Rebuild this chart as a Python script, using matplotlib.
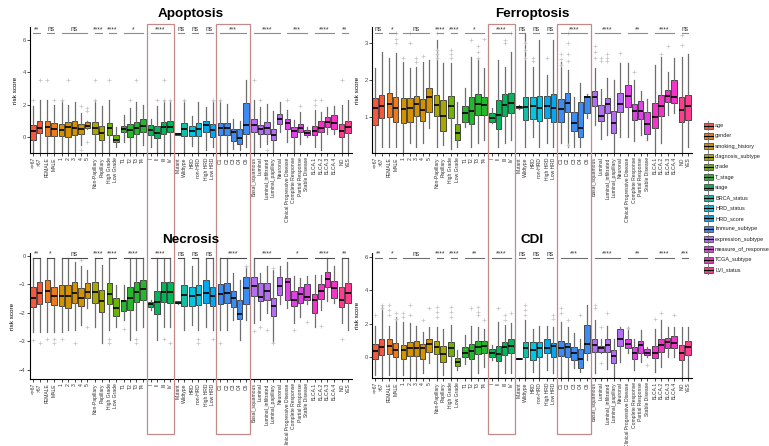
import numpy as np
import matplotlib
matplotlib.use("Agg")
import matplotlib.pyplot as plt
from matplotlib.patches import Rectangle
from matplotlib.lines import Line2D

plt.rcParams['font.family'] = ['Liberation Sans', 'DejaVu Sans']

GROUPS = ["age", "gender", "smoking_history", "diagnosis_subtype", "grade", "T_stage", "stage",
          "BRCA_status", "HRD_status", "HRD_score", "Immune_subtype", "expression_subtype",
          "measure_of_response", "TCGA_subtype", "LVI_status"]
LEVELS = [["<=67", ">67"], ["FEMALE", "MALE"], ["1", "2", "3", "4", "5"],
          ["Non-Papillary", "Papillary"], ["High Grade", "Low Grade"], ["T1", "T2", "T3", "T4"],
          ["I", "II", "III", "IV"], ["Mutant", "Wildtype"], ["HRD", "non-HRD"], ["High HRD", "Low HRD"],
          ["C1", "C2", "C3", "C4", "C6"],
          ["Basal_squamous", "Luminal", "Luminal_infiltrated", "Luminal_papillary", "Neuronal"],
          ["Clinical Progressive Disease", "Complete Response", "Partial Response", "Stable Disease"],
          ["BLCA.1", "BLCA.2", "BLCA.3", "BLCA.4"], ["NO", "YES"]]
COLORS = ["#F4593E", "#EE7A1E", "#D49200", "#A9A800", "#6DB300", "#25B82A", "#00B75A",
          "#14BFA6", "#00C5E3", "#00A9F2", "#3D8CF4", "#B46EF4", "#E042E6", "#F434C8", "#FF3C8E"]

# ---- Apoptosis ----
APOP_Q1 = [-0.2, 0.25, 0.06, 0.06, 0.04, 0.0, 0.14, 0.16, 0.55, 0.2, -0.16, 0.14, -0.31, 0.31, 0.0, 0.2, 0.31,
           0.1, -0.04, 0.2, 0.31, 0.14, 0.06, 0.06, 0.06, 0.31, 0.0, 0.14, 0.14, -0.27, -0.41, 0.2,
           0.31, 0.16, 0.2, -0.2, 0.82, 0.51, 0.0, 0.31, 0.1, 0.1, 0.31, 0.62, 0.51, 0.0, 0.27]
APOP_MED = [0.37, 0.57, 0.62, 0.47, 0.41, 0.62, 0.55, 0.47, 0.66, 0.57, 0.27, 0.57, -0.2, 0.51, 0.45, 0.57, 0.66,
            0.41, 0.27, 0.62, 0.62, 0.2, 0.51, 0.35, 0.51, 0.72, 0.41, 0.55, 0.55, 0.31, -0.04, 0.72,
            0.72, 0.47, 0.57, 0.14, 1.13, 0.88, 0.35, 0.57, 0.27, 0.35, 0.55, 0.92, 0.88, 0.37, 0.62]
APOP_Q3 = [0.72, 0.96, 0.96, 0.86, 0.82, 0.92, 0.98, 0.78, 0.92, 0.92, 0.68, 0.88, 0.1, 0.66, 0.82, 0.92, 1.13,
           0.76, 0.66, 0.92, 0.98, 0.25, 0.88, 0.66, 0.88, 0.98, 0.82, 0.88, 0.88, 0.51, 0.51, 2.1,
           1.09, 0.76, 0.92, 0.51, 1.4, 1.13, 0.62, 0.82, 0.41, 0.66, 0.98, 1.23, 1.33, 0.82, 0.98]
APOP_LO = [-0.92, -0.9, -0.9, -0.9, -0.9, -0.95, -0.9, -0.5, 0.5, -0.9, -0.9, -0.9, -0.6, -0.3, -0.9, -0.9, -0.5,
           -0.6, -0.9, -0.9, -0.9, 0.14, -0.9, -0.57, -0.9, -0.8, -0.6, -0.9, -0.9, -0.72, -0.8, -0.6,
           -0.9, -0.6, -0.4, -0.9, 0.31, -0.3, -0.92, -0.41, 0.0, -0.6, -0.8, 0.2, 0.2, -0.9, -0.9]
APOP_HI = [1.9, 2.3, 2.25, 2.0, 2.25, 2.0, 2.15, 1.45, 1.0, 2.25, 1.9, 2.25, 0.6, 1.33, 1.8, 2.15, 1.95,
           1.13, 1.9, 2.25, 2.25, 0.25, 2.25, 1.27, 2.15, 1.85, 2.25, 2.25, 2.05, 1.1, 1.0, 3.5,
           2.25, 1.85, 2.05, 1.58, 2.15, 1.64, 1.03, 1.54, 0.6, 1.64, 1.54, 1.85, 1.9, 1.95, 2.25]
APOP_OUT = [(0, 2.25), (1, 3.5), (2, 3.5), (3, 2.25), (4, 2.25), (5, 3.5), (7, 1.9), (7, -0.8), (8, 1.8),
            (8, 1.6), (8, -0.3), (9, 3.5), (9, 2.25), (11, 3.5), (14, 2.25), (15, 3.5), (18, 2.25),
            (19, 3.5), (19, 2.25), (20, 2.25), (22, 2.25), (26, 2.25), (27, 2.25), (32, 3.5), (33, 2.25),
            (34, -0.8), (37, 2.25), (39, 1.9), (41, 2.25), (41, 2.0), (42, 2.25), (45, 3.5)]
APOP_SIG = ["**", "ns", "ns", "****", "****", "*", "****", "ns", "ns", "ns", "***", "****", "***", "****", "**"]

# ---- Ferroptosis ----
FERR_Q1 = [0.79, 0.97, 1.0, 0.88, 0.84, 0.88, 1.02, 0.91, 1.15, 1.04, 0.63, 0.97, 0.39, 0.86, 0.82, 1.06, 1.06,
           0.86, 0.68, 1.02, 1.11, 1.24, 0.93, 0.95, 0.91, 0.97, 0.87, 0.87, 1.15, 0.62, 0.46, 1.11,
           1.29, 0.91, 1.11, 0.57, 1.13, 1.27, 0.93, 0.95, 0.54, 0.71, 1.02, 1.42, 1.38, 0.88, 0.93]
FERR_MED = [1.24, 1.29, 1.35, 1.24, 1.22, 1.24, 1.35, 1.2, 1.54, 1.33, 1.02, 1.29, 0.57, 1.11, 1.17, 1.35, 1.33,
            0.99, 1.06, 1.33, 1.38, 1.27, 1.27, 1.29, 1.26, 1.3, 1.26, 1.21, 1.38, 0.84, 0.72, 1.55,
            1.55, 1.04, 1.35, 0.84, 1.36, 1.57, 1.18, 1.17, 0.82, 1.0, 1.3, 1.57, 1.55, 1.2, 1.3]
FERR_Q3 = [1.51, 1.6, 1.64, 1.54, 1.51, 1.51, 1.58, 1.48, 1.78, 1.6, 1.46, 1.58, 0.81, 1.29, 1.54, 1.62, 1.55,
           1.11, 1.46, 1.62, 1.64, 1.3, 1.55, 1.53, 1.57, 1.58, 1.62, 1.49, 1.64, 1.15, 1.42, 1.58,
           1.71, 1.33, 1.51, 1.17, 1.66, 1.87, 1.35, 1.44, 1.15, 1.38, 1.6, 1.73, 2.0, 1.55, 1.6]
FERR_LO = [0.04, 0.21, 0.21, 0.2, 0.04, 0.3, 0.2, 0.3, 0.71, 0.2, 0.26, 0.15, 0.21, 0.75, 0.2, 0.3, 0.39,
           0.84, 0.2, 0.3, 0.39, 1.22, 0.2, 0.48, 0.2, 0.3, 0.2, 0.3, 0.2, 0.2, 0.21, 0.97,
           0.79, 0.41, 0.53, 0.04, 0.48, 0.48, 0.35, 0.53, 0.39, 0.04, 0.3, 1.06, 1.11, 0.04, 0.2]
FERR_HI = [2.31, 2.76, 2.6, 2.71, 2.49, 2.31, 2.36, 2.49, 2.54, 3.07, 2.45, 2.45, 1.42, 1.78, 2.62, 2.58, 2.31,
           1.24, 2.54, 2.36, 2.76, 1.32, 3.25, 2.36, 3.07, 2.13, 3.07, 2.49, 2.27, 1.55, 1.91, 1.62,
           2.31, 1.75, 2.04, 2.0, 2.45, 2.45, 2.0, 1.71, 1.5, 2.4, 2.62, 2.22, 2.58, 2.62, 2.7]
FERR_OUT = [(3, 3.0), (3, 3.1), (3, 3.25), (4, 2.6), (5, 3.0), (5, 3.25), (6, 2.6), (6, 2.49), (7, 2.65),
            (9, 2.6), (9, 2.7), (9, 2.8), (9, 3.25), (11, 2.6), (11, 2.7), (11, 2.8), (14, 3.07), (15, 2.6),
            (15, 2.75), (15, 2.9), (16, 3.1), (19, 3.07), (19, 3.0), (20, 3.25), (22, 2.6), (22, 2.8),
            (22, 3.0), (23, 2.6), (23, 2.5), (25, 2.6), (27, 2.4), (27, 2.55), (27, 2.7), (28, 2.5),
            (28, 2.7), (28, 3.0), (28, 3.25), (28, 0.25), (32, 2.6), (32, 2.75), (32, 2.9), (33, 2.5),
            (33, 2.6), (34, 2.6), (34, 2.7), (34, 2.5), (36, 2.71), (38, 2.2), (42, 2.7), (43, 2.9),
            (45, 2.95), (45, 3.2)]
FERR_SIG = ["ns", "*", "ns", "****", "****", "*", "****", "ns", "ns", "ns", "****", "****", "**", "****", "ns"]

# ---- Necrosis ----
NECR_Q1 = [-1.81, -1.69, -1.61, -1.73, -1.75, -1.82, -1.67, -1.76, -1.47, -1.64, -1.98, -1.69, -2.11, -1.92, -1.9,
           -1.61, -1.55, -1.81, -2.04, -1.61, -1.64, -1.67, -1.76, -1.75, -1.73, -1.64, -1.76, -1.69, -1.67,
           -1.78, -2.22, -1.69, -1.41, -1.57, -1.55, -2.11, -1.38, -1.55, -1.76, -1.67, -1.55, -2.02, -1.52,
           -1.08, -1.49, -1.81, -1.64]
NECR_MED = [-1.47, -1.29, -1.24, -1.4, -1.4, -1.4, -1.29, -1.49, -1.28, -1.28, -1.59, -1.35, -1.84, -1.59, -1.49,
            -1.28, -1.17, -1.7, -1.61, -1.26, -1.26, -1.64, -1.38, -1.41, -1.38, -1.32, -1.41, -1.34, -1.32,
            -1.49, -2.05, -1.12, -1.05, -1.43, -1.24, -1.76, -1.05, -0.93, -1.55, -1.34, -1.43, -1.55, -1.22,
            -0.83, -1.14, -1.55, -1.29]
NECR_Q3 = [-1.08, -0.91, -0.85, -1.08, -1.03, -1.03, -0.91, -1.14, -0.97, -0.91, -1.2, -0.97, -1.49, -1.55, -1.08,
           -0.93, -0.85, -1.61, -1.24, -0.91, -0.91, -1.6, -1.03, -1.11, -1.03, -0.85, -1.08, -1.0, -0.97,
           -1.24, -1.55, -0.76, -0.76, -0.97, -0.97, -1.47, -0.76, -0.79, -1.22, -1.08, -1.0, -1.34, -1.0,
           -0.58, -0.89, -1.11, -0.97]
NECR_LO = [-2.66, -2.66, -2.66, -2.66, -2.66, -2.6, -2.6, -2.43, -1.84, -2.48, -3.07, -2.6, -2.48, -2.25, -2.95,
           -2.6, -2.48, -1.9, -2.95, -2.48, -2.48, -1.7, -2.6, -2.43, -2.6, -2.48, -2.6, -2.6, -2.6, -2.25,
           -2.95, -2.25, -2.37, -2.25, -2.02, -3.04, -1.68, -1.84, -2.37, -2.13, -1.68, -2.48, -1.9, -1.6,
           -1.64, -2.37, -2.6]
NECR_HI = [-0.09, -0.09, -0.09, -0.09, -0.09, -0.09, -0.21, -0.38, -0.5, -0.09, -0.33, -0.09, -1.03, -1.03, -0.09,
           -0.09, -0.09, -1.55, -0.09, -0.09, -0.09, -1.6, -0.09, -0.38, -0.09, -0.09, -0.09, -0.09, -0.09,
           -0.62, -0.85, -0.38, -0.09, -0.62, -0.38, -0.5, -0.38, -0.21, -0.73, -0.79, -0.73, -0.68, -0.68,
           -0.09, -0.38, -0.09, -0.09]
NECR_OUT = [(0, -2.95), (1, -3.05), (2, -2.93), (3, -2.93), (3, -3.05), (4, -2.93), (6, -3.05), (7, -0.15),
            (8, -2.48), (11, -2.93), (11, -3.05), (13, -2.57), (15, -2.93), (15, -3.05), (19, -2.93),
            (20, -3.05), (24, -2.93), (24, -3.05), (26, -2.93), (27, -3.05), (31, -0.38), (32, -2.64),
            (33, -2.48), (34, -2.6), (35, -3.05), (35, -0.45), (38, -2.6), (40, -2.33), (42, -2.45),
            (45, -2.93)]
NECR_SIG = ["**", "*", "ns", "****", "****", "****", "****", "ns", "ns", "ns", "****", "****", "*", "****", "**"]

# ---- CDI ----
CDI_Q1 = [-0.14, 0.12, 0.16, -0.02, -0.14, 0.08, 0.06, -0.14, 0.32, 0.16, -0.32, 0.06, -0.54, 0.02, -0.14, 0.16,
          0.22, 0.02, -0.24, 0.12, 0.22, -0.14, 0.02, -0.18, 0.02, 0.22, 0.02, 0.08, 0.02, -0.18, -0.64, 0.22,
          0.28, 0.28, 0.28, -0.38, 0.68, 0.56, -0.14, 0.22, 0.12, -0.04, 0.28, 0.56, 0.56, -0.18, 0.12]
CDI_MED = [0.38, 0.58, 0.66, 0.42, 0.42, 0.52, 0.52, 0.52, 0.78, 0.58, 0.16, 0.52, -0.28, 0.26, 0.36, 0.62,
           0.66, 0.26, 0.16, 0.62, 0.66, -0.1, 0.52, 0.42, 0.56, 0.56, 0.66, 0.56, 0.62, 0.26, -0.14, 0.76,
           0.72, 0.52, 0.72, 0.06, 1.06, 0.78, 0.22, 0.72, 0.22, 0.26, 0.72, 0.92, 0.86, 0.22, 0.62]
CDI_Q3 = [0.76, 1.06, 1.08, 0.82, 0.72, 0.92, 0.98, 0.76, 1.06, 0.96, 0.66, 0.92, -0.04, 0.62, 0.78, 0.98,
          0.96, 0.46, 0.66, 0.92, 1.06, -0.06, 0.88, 0.88, 0.88, 1.08, 0.86, 0.96, 0.86, 0.58, 0.48, 1.91,
          1.08, 0.68, 1.08, 0.42, 1.66, 1.06, 0.62, 0.96, 0.46, 0.66, 1.08, 1.12, 1.28, 0.72, 0.98]
CDI_LO = [-1.08, -1.18, -1.08, -1.18, -1.08, -1.18, -1.18, -0.98, -0.38, -1.18, -1.08, -1.18, -0.78, -0.42,
          -1.18, -0.98, -0.58, -0.18, -1.18, -0.98, -0.98, -0.14, -1.18, -0.88, -1.18, -0.78, -0.98, -1.18,
          -1.18, -0.68, -0.88, -0.18, -0.98, 0.22, -0.74, -1.28, -0.28, 0.22, -0.78, -0.28, 0.02, -0.88,
          -0.58, 0.02, 0.02, -1.28, -1.18]
CDI_HI = [1.85, 3.1, 1.85, 2.4, 2.1, 2.05, 1.85, 1.5, 1.8, 1.8, 1.7, 1.9, 0.42, 1.3, 1.85, 1.8, 1.7, 0.72,
          2.1, 1.9, 2.05, -0.06, 2.2, 1.66, 1.85, 1.85, 1.8, 2.1, 1.8, 1.42, 1.1, 3.1, 2.2, 1.1, 1.85, 1.1,
          1.8, 1.8, 1.1, 1.6, 0.62, 1.7, 2.2, 1.8, 1.8, 1.8, 1.8]
CDI_OUT = [(0, 2.5), (1, 2.9), (1, 3.1), (2, 2.5), (2, 2.8), (2, 3.1), (3, 2.3), (3, 2.6), (4, 2.6), (4, 2.4),
           (5, 3.1), (5, 2.5), (7, 2.2), (8, 2.9), (9, 2.4), (9, 2.7), (9, 3.0), (11, 2.4), (11, 2.7),
           (11, 3.0), (14, 2.9), (15, 2.5), (15, 2.7), (15, 3.0), (16, 2.2), (18, 2.9), (19, 2.5), (19, 2.2),
           (20, 2.6), (22, 2.5), (22, 2.8), (22, 3.1), (26, 2.5), (26, 2.3), (27, 2.9), (27, 2.6), (28, 2.2),
           (30, 2.5), (32, 2.9), (32, 3.1), (33, 1.8), (33, -0.38), (34, 2.6), (37, 1.76), (40, -0.48),
           (41, 2.3), (42, 2.6), (44, 2.5)]
CDI_SIG = ["**", "*", "ns", "****", "****", "**", "****", "ns", "ns", "ns", "***", "****", "**", "****", "***"]

W, H = 769, 446
fig = plt.figure(figsize=(W / 100, H / 100), dpi=100)


def px_axes(left, top, right, bottom):
    return fig.add_axes([left / W, 1 - bottom / H, (right - left) / W, (bottom - top) / H])


# x positions: step 1 inside a group, 1.2 between groups
xs, box_cols, labels, spans = [], [], [], []
pos = 0.0
for gi, lv in enumerate(LEVELS):
    if gi > 0:
        pos += 1.2
    start = pos
    for j, name in enumerate(lv):
        if j > 0:
            pos += 1.0
        xs.append(pos)
        box_cols.append(COLORS[gi])
        labels.append(name)
    spans.append((start, pos))
xs = np.array(xs)


def draw_panel(ax, q1, med, q3, lo, hi, outs, sig, ylim, yticks, bracket_y, title, bcol):
    stats = []
    for i in range(len(xs)):
        stats.append(dict(med=med[i], q1=q1[i], q3=q3[i], whislo=lo[i], whishi=hi[i],
                          fliers=[v for k, v in outs if k == i]))
    bp = ax.bxp(stats, positions=xs, widths=0.85, patch_artist=True, showcaps=False,
                boxprops=dict(edgecolor="#333333", linewidth=0.6),
                medianprops=dict(color="black", linewidth=1.2),
                whiskerprops=dict(color="#6e6e6e", linewidth=0.9),
                flierprops=dict(marker="+", markeredgecolor="#c4c4c4", markersize=2.6, markeredgewidth=0.5))
    for patch, c in zip(bp["boxes"], box_cols):
        patch.set_facecolor(c)
    ax.set_xlim(-0.5, xs[-1] + 0.6)
    ax.set_ylim(*ylim)
    ax.set_yticks(yticks)
    ax.set_xticks(xs)
    ax.set_xticklabels(labels, rotation=90, fontsize=3.6, color="#303030")
    ax.tick_params(axis="y", labelsize=4.2, labelcolor="#4d4d4d", length=2, width=0.5, pad=1)
    ax.tick_params(axis="x", length=2, width=0.5, pad=1)
    for s in ["top", "right"]:
        ax.spines[s].set_visible(False)
    for s in ["left", "bottom"]:
        ax.spines[s].set_linewidth(0.8)
    ax.set_ylabel("risk score", fontsize=4.6, labelpad=3)
    for (a, b), s in zip(spans, sig):
        ax.plot([a, b], [bracket_y, bracket_y], color=bcol, lw=0.8, clip_on=False)
        ax.annotate(s, ((a + b) / 2, bracket_y), xytext=(0, 0.3), textcoords="offset points",
                    ha="center", va="bottom", fontsize=4.8, color="#333333", annotation_clip=False)
    bb = ax.get_position()
    fig.text((bb.x0 + bb.x1) / 2, bb.y1 + 13 / H, title, ha="center", va="center",
             fontsize=9.7, fontweight="bold")


ax1 = px_axes(30, 27, 352, 153)
ax2 = px_axes(372, 27, 692, 153)
ax3 = px_axes(30, 253, 352, 379)
ax4 = px_axes(372, 253, 692, 378)

draw_panel(ax1, APOP_Q1, APOP_MED, APOP_Q3, APOP_LO, APOP_HI, APOP_OUT, APOP_SIG,
           (-0.98, 6.77), [0, 2, 4, 6], 6.38, "Apoptosis", "#8c8c8c")
draw_panel(ax2, FERR_Q1, FERR_MED, FERR_Q3, FERR_LO, FERR_HI, FERR_OUT, FERR_SIG,
           (0.04, 3.42), [1, 2, 3], 3.25, "Ferroptosis", "#8c8c8c")
draw_panel(ax3, NECR_Q1, NECR_MED, NECR_Q3, NECR_LO, NECR_HI, NECR_OUT, NECR_SIG,
           (-4.31, 0.09), [-4, -3, -2, -1, 0], -0.09, "Necrosis", "#4a4a4a")
draw_panel(ax4, CDI_Q1, CDI_MED, CDI_Q3, CDI_LO, CDI_HI, CDI_OUT, CDI_SIG,
           (-1.26, 6.22), [0, 2, 4, 6], 5.91, "CDI", "#6e6e6e")

# red highlight frames around stage and Immune_subtype, spanning both rows
inv = fig.transFigure.inverted()
for ax in (ax1, ax2):
    for gi in (GROUPS.index("stage"), GROUPS.index("Immune_subtype")):
        a, b = spans[gi]
        x0 = inv.transform(ax.transData.transform((a - 0.6, 0)))[0]
        x1 = inv.transform(ax.transData.transform((b + 0.6, 0)))[0]
        y0, y1 = 1 - 434 / H, 1 - 24 / H
        fig.add_artist(Rectangle((x0, y0), x1 - x0, y1 - y0, transform=fig.transFigure,
                                 fill=False, edgecolor="#c48a8a", linewidth=0.9))

# legend with mini boxplot keys
for i, (g, c) in enumerate(zip(GROUPS, COLORS)):
    yc = 125.7 + i * 10.3
    fy = lambda v: 1 - v / H
    fig.add_artist(Line2D([708 / W, 708 / W], [fy(yc - 4.5), fy(yc + 4.5)], transform=fig.transFigure,
                          color="#6e6e6e", lw=0.6))
    fig.add_artist(Rectangle((703.5 / W, fy(yc + 3)), 9 / W, 6 / H, transform=fig.transFigure,
                             facecolor=c, edgecolor="#333333", lw=0.5))
    fig.add_artist(Line2D([703.5 / W, 712.5 / W], [fy(yc), fy(yc)], transform=fig.transFigure,
                          color="black", lw=0.8))
    fig.text(715 / W, fy(yc), g, fontsize=3.95, va="center", ha="left", color="#222222")

fig.savefig("out.png", dpi=100)
